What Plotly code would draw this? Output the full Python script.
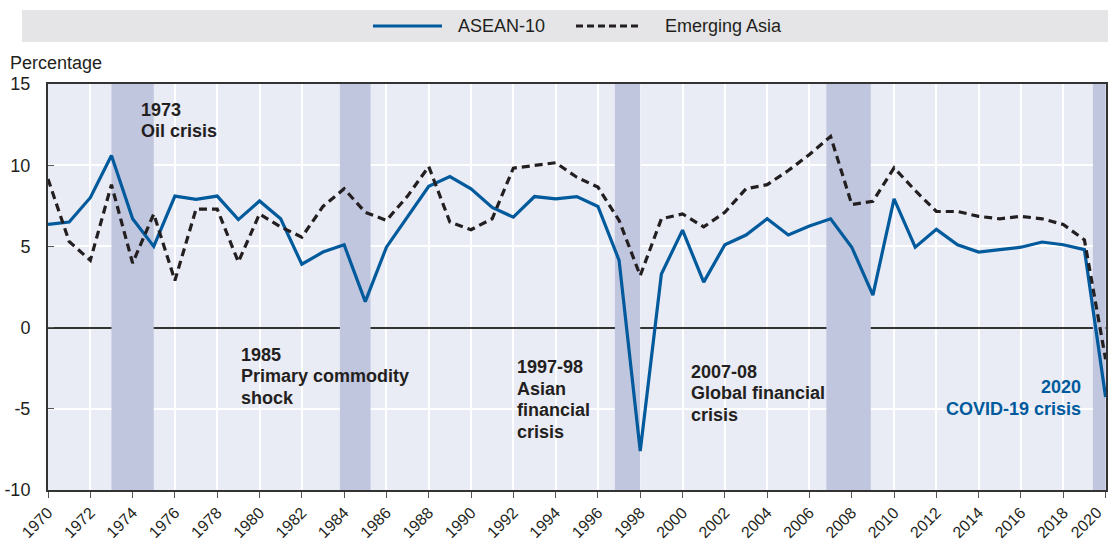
import plotly.graph_objects as go

years = list(range(1970, 2021))
asean10 = [6.35, 6.5, 8.0, 10.6, 6.7, 5.0, 8.1, 7.9, 8.1, 6.65,
           7.8, 6.7, 3.9, 4.65, 5.1, 1.6, 4.95, 6.85, 8.7, 9.3,
           8.55, 7.4, 6.8, 8.07, 7.93, 8.07, 7.46, 4.14, -7.6, 3.3,
           6.0, 2.8, 5.1, 5.7, 6.7, 5.7, 6.25, 6.7, 4.95, 2.0,
           7.93, 4.95, 6.05, 5.1, 4.65, 4.8, 4.95, 5.27, 5.1, 4.8,
           -4.27]
emerging_asia = [9.15, 5.3, 4.14, 8.8, 3.97, 7.0, 2.9, 7.3, 7.3, 4.04,
                 7.0, 6.2, 5.57, 7.46, 8.55, 7.1, 6.6, 8.1, 9.92, 6.5,
                 6.03, 6.7, 9.82, 9.98, 10.15, 9.26, 8.65, 6.6, 3.2, 6.7,
                 7.0, 6.2, 7.1, 8.55, 8.8, 9.67, 10.66, 11.77, 7.58, 7.78,
                 9.84, 8.44, 7.15, 7.15, 6.85, 6.7, 6.85, 6.7, 6.35, 5.4,
                 -1.95]

series_names = ["ASEAN-10", "Emerging Asia"]
x_ticks = list(range(1970, 2021, 2))
# last label (2020) is drawn separately so it stays inside the picture
x_ticktext = [str(v) for v in x_ticks[:-1]] + [""]
last_tick_label = str(x_ticks[-1])
y_ticks = [-10, -5, 0, 5, 10, 15]
y_ticktext = ["-10", "-5", "0", "5", "10", "15"]

crisis_bands = [(1973.0, 1975.0), (1983.8, 1985.25), (1996.8, 1998.0),
                (2006.8, 2008.9), (2019.4, 2020.0)]

crisis_labels = [
    (["1973", "Oil crisis"], 1974.35, 14.1, "left", "#231f20"),
    (["1985", "Primary commodity", "shock"], 1979.07, -1.0, "left", "#231f20"),
    (["1997-98", "Asian", "financial", "crisis"], 1992.14, -1.75, "left", "#231f20"),
    (["2007-08", "Global financial", "crisis"], 2000.35, -2.05, "left", "#231f20"),
    (["2020", "COVID-19 crisis"], 2018.9, -3.0, "right", "#005a9c"),
]

FONT = "Liberation Sans, Arial, sans-serif"
BLUE = "#005a9c"
DARK = "#231f20"
LINE_GAP = 21.5

# plot area in pixels: x 48..1106, y 84..490
def px_x(p):
    return (p - 48) / 1058

def px_y(p):
    return (490 - p) / 406

fig = go.Figure()
fig.add_trace(go.Scatter(x=years, y=asean10, mode="lines", name=series_names[0],
                         line=dict(color=BLUE, width=3.2), showlegend=False))
fig.add_trace(go.Scatter(x=years, y=emerging_asia, mode="lines", name=series_names[1],
                         line=dict(color=DARK, width=3.2, dash="8px,5px"), showlegend=False))

shapes = []
for x0, x1 in crisis_bands:
    shapes.append(dict(type="rect", xref="x", yref="y", x0=x0, x1=x1, y0=-10, y1=15,
                       fillcolor="#c1c6df", line=dict(width=0), layer="between"))
# legend background strip
shapes.append(dict(type="rect", xref="paper", yref="paper",
                   x0=px_x(22), x1=px_x(1108), y0=px_y(42), y1=px_y(10),
                   fillcolor="#e5e5e7", line=dict(width=0), layer="below"))
# legend keys
shapes.append(dict(type="line", xref="paper", yref="paper",
                   x0=px_x(373), x1=px_x(442), y0=px_y(26), y1=px_y(26),
                   line=dict(color=BLUE, width=3.2)))
shapes.append(dict(type="line", xref="paper", yref="paper",
                   x0=px_x(576), x1=px_x(642), y0=px_y(26), y1=px_y(26),
                   line=dict(color=DARK, width=3.2, dash="7px,4px")))

annotations = []
annotations.append(dict(text=series_names[0], x=px_x(456), y=px_y(26), xref="paper", yref="paper",
                        xanchor="left", yanchor="middle", showarrow=False,
                        font=dict(family=FONT, size=18, color=DARK)))
annotations.append(dict(text=series_names[1], x=px_x(663), y=px_y(26), xref="paper", yref="paper",
                        xanchor="left", yanchor="middle", showarrow=False,
                        font=dict(family=FONT, size=18, color=DARK)))
for lines, x, y, align, color in crisis_labels:
    for i, line in enumerate(lines):
        annotations.append(dict(text="<b>" + line + "</b>", x=x, y=y, xref="x", yref="y",
                                xanchor=align, yanchor="top", align=align, showarrow=False,
                                yshift=-i * LINE_GAP, borderpad=0,
                                font=dict(family=FONT, size=18, color=color)))
annotations.append(dict(text="Percentage", x=px_x(8), y=px_y(63),
                        xref="paper", yref="paper", xanchor="left", yanchor="middle",
                        showarrow=False, font=dict(family=FONT, size=18, color=DARK)))
annotations.append(dict(text=last_tick_label, x=px_x(1086), y=px_y(522),
                        xref="paper", yref="paper", xanchor="center", yanchor="middle",
                        textangle=-45, showarrow=False, borderpad=0,
                        font=dict(family=FONT, size=16, color=DARK)))

fig.update_layout(
    width=1108, height=541,
    margin=dict(l=48, r=2, t=84, b=51),
    paper_bgcolor="white", plot_bgcolor="#e9ebf5",
    font=dict(family=FONT, size=17, color=DARK),
    shapes=shapes, annotations=annotations,
    showlegend=False,
)
fig.update_xaxes(range=[1970, 2020.02], tickmode="array", tickvals=x_ticks, ticktext=x_ticktext,
                 tickangle=-45, showgrid=True, gridcolor="white", gridwidth=1.5,
                 showline=True, linecolor="#333333", linewidth=2, mirror=True,
                 ticks="outside", ticklen=6, tickcolor="#555555", automargin=False,
                 ticklabeloverflow="allow", ticklabelstandoff=-1,
                 tickfont=dict(family=FONT, size=16, color=DARK))
fig.update_yaxes(range=[-10, 15], tickmode="array", tickvals=y_ticks, ticktext=y_ticktext,
                 showgrid=True, gridcolor="white", gridwidth=1.5,
                 zeroline=True, zerolinecolor="#333333", zerolinewidth=1.5,
                 showline=True, linecolor="#333333", linewidth=2, mirror=True,
                 ticks="inside", ticklen=6, tickcolor="#555555", automargin=False,
                 ticklabelstandoff=12,
                 tickfont=dict(family=FONT, size=18, color=DARK))

fig.write_html("out.html", config={"displayModeBar": False},
               post_script="document.body.style.margin='0';")
